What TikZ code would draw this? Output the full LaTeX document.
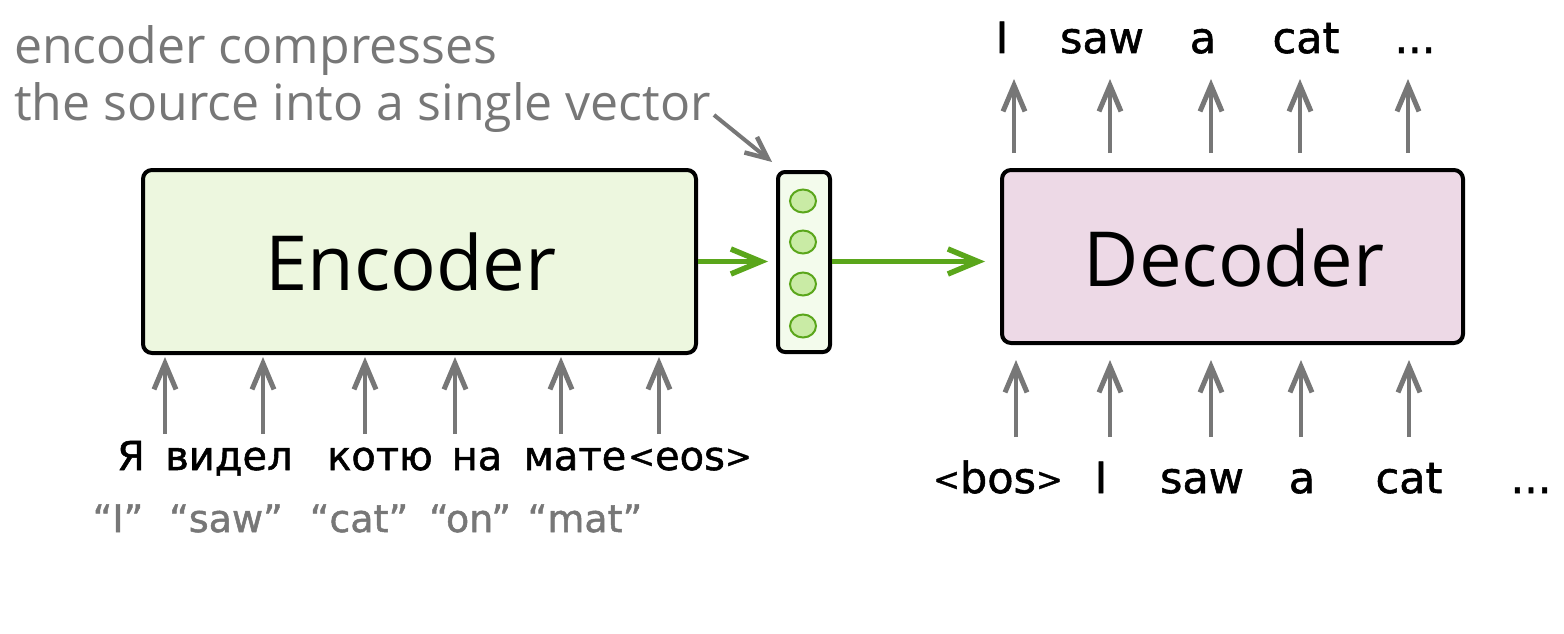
\documentclass[tikz,border=0pt]{standalone}
\usepackage{fontspec}
\setmainfont{DejaVu Sans}
\newfontfamily\heavy{DejaVu Sans}[FakeBold=1.3]
\newfontfamily\thinfont{Open Sans}
\usetikzlibrary{arrows.meta,shapes.geometric}
\definecolor{encfill}{HTML}{EDF7DF}
\definecolor{vecfill}{HTML}{F3FBEC}
\definecolor{decfill}{HTML}{EDD9E6}
\definecolor{dotfill}{HTML}{C9EBA5}
\definecolor{green1}{HTML}{5AA61B}
\definecolor{gray1}{HTML}{777777}
\newcommand{\lt}{\raisebox{2.5pt}{\fontsize{32}{32}\selectfont<}}
\newcommand{\gt}{\raisebox{2.5pt}{\fontsize{32}{32}\selectfont>}}
\begin{document}
\begin{tikzpicture}[x=1pt,y=-1pt,
  bigbox/.style={draw=black,line width=4pt,rounded corners=9pt,inner sep=0pt},
  boxlabel/.style={font=\thinfont\fontsize{76}{80}\selectfont,inner sep=0pt,anchor=base},
  word/.style={font=\heavy\fontsize{43}{48}\selectfont,inner sep=0pt,anchor=base},
  src/.style={font=\heavy\fontsize{40}{44}\selectfont,inner sep=0pt,anchor=base},
  gloss/.style={font=\heavy\fontsize{38}{42}\selectfont,text=gray1,inner sep=0pt,anchor=base},
  note/.style={font=\thinfont\fontsize{50}{56}\selectfont,text=gray1,inner sep=0pt,anchor=base west},
  dot/.style={ellipse,draw=green1,fill=dotfill,line width=2pt,minimum width=26pt,minimum height=23pt,inner sep=0pt},
  garrow/.style={draw=gray1,line width=4.5pt,-{Straight Barb[length=26pt,width=22pt,line width=5pt]}},
  greenarrow/.style={draw=green1,line width=4.5pt,-{Straight Barb[length=30pt,width=25pt,line width=5.5pt]}}]
\useasboundingbox (0,0) rectangle (1564,634);

% boxes
\node[bigbox,fill=encfill,minimum width=553pt,minimum height=183pt] (enc) at (419.5,261.5) {};
\node[boxlabel] (enct) at (411,290) {Encoder};
\node[bigbox,fill=vecfill,minimum width=52pt,minimum height=180pt,rounded corners=7pt] (vec) at (804,262) {};
\node[dot] (d1) at (803,201) {};
\node[dot] (d2) at (803,242) {};
\node[dot] (d3) at (803,284) {};
\node[dot] (d4) at (803,326) {};
\node[bigbox,fill=decfill,minimum width=461pt,minimum height=173pt] (dec) at (1232.5,256.5) {};
\node[boxlabel] (dect) at (1234,286) {Decoder};

% green arrows
\draw[greenarrow,shorten >=8pt] (enc.east) -- (vec.west |- enc.east);
\draw[greenarrow,shorten >=15pt] (vec.east |- enc.east) -- (dec.west |- enc.east);

% annotation
\node[note] (ann1) at (14,64) {encoder compresses};
\node[note] (ann2) at (14,120) {the source into a single vector};
\coordinate (annend) at (714,115);
\coordinate (anntip) at (772,162);
\draw[draw=gray1,line width=4pt,-{Straight Barb[length=22pt,width=20pt,line width=4.5pt]}] (annend) -- (anntip);

% source words
\node[src] (r1) at (131,470) {Я};
\node[src] (r2) at (229,470) {видел};
\node[src] (r3) at (380,470) {котю};
\node[src] (r4) at (477,470) {на};
\node[src] (r5) at (575,470) {мате};
\node[src] (r6) at (690,470) {\lt eos\gt};

\node[gloss] (g1) at (118,532) {“I”};
\node[gloss] (g2) at (226,532) {“saw”};
\node[gloss] (g3) at (359,532) {“cat”};
\node[gloss] (g4) at (470,532) {“on”};
\node[gloss] (g5) at (585,532) {“mat”};

% encoder input arrows
\foreach \x [count=\i] in {165,263,365,455,561,659}{
  \coordinate (ei\i) at (\x,434);
  \coordinate (et\i) at (\x,357);
  \draw[garrow] (ei\i) -- (et\i);
}

% decoder input words
\node[word] (b1) at (998,493) {\lt bos\gt};
\node[word] (b2) at (1101,493) {I};
\node[word] (b3) at (1202,493) {saw};
\node[word] (b4) at (1302,493) {a};
\node[word] (b5) at (1409,493) {cat};
\node[word] (b6) at (1531,493) {...};

\foreach \x [count=\i] in {1016,1110,1211,1301,1409}{
  \coordinate (di\i) at (\x,437);
  \coordinate (dt\i) at (\x,360);
  \draw[garrow] (di\i) -- (dt\i);
}

% decoder outputs
\node[word] (o1) at (1002,53) {I};
\node[word] (o2) at (1102,53) {saw};
\node[word] (o3) at (1203,53) {a};
\node[word] (o4) at (1306,53) {cat};
\node[word] (o5) at (1415,53) {...};

\foreach \x [count=\i] in {1014,1110,1211,1300,1408}{
  \coordinate (os\i) at (\x,153);
  \coordinate (ot\i) at (\x,79);
  \draw[garrow] (os\i) -- (ot\i);
}
\end{tikzpicture}
\end{document}
